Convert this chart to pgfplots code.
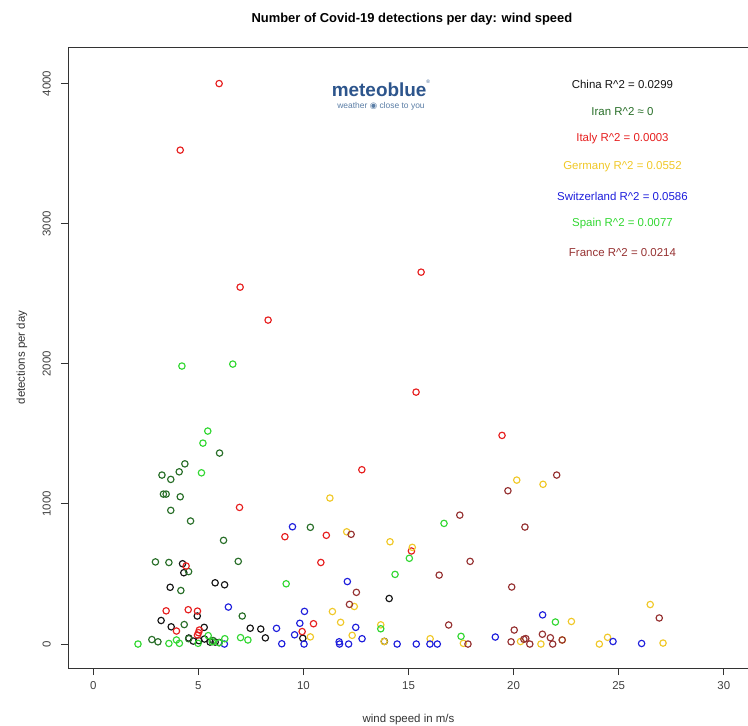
\documentclass[border=0pt]{standalone}
\usepackage{pgfplots}
\pgfplotsset{compat=1.18}
\usepackage{fontspec}
\setmainfont{Liberation Sans}
\newfontfamily\symfont{DejaVu Sans}

\definecolor{cChina}{RGB}{20,20,20}
\definecolor{cIran}{RGB}{40,110,40}
\definecolor{cItaly}{RGB}{230,30,30}
\definecolor{cGermany}{RGB}{240,200,40}
\definecolor{cSwiss}{RGB}{30,30,220}
\definecolor{cSpain}{RGB}{50,215,50}
\definecolor{cFrance}{RGB}{150,50,50}
\definecolor{mbBlue}{RGB}{45,85,140}
\definecolor{mbGrey}{RGB}{90,125,165}

\begin{document}
\begin{tikzpicture}
\begin{axis}[
  at={(68bp,58bp)}, anchor=south west,
  scale only axis, width=681bp, height=621bp,
  xmin=-1.2, xmax=31.2, ymin=-171, ymax=4261,
  xtick={0,5,...,30}, ytick={0,1000,...,4000},
  xtick pos=bottom, ytick pos=left,
  tick align=outside, major tick length=7bp,
  axis line style={line width=0.9bp, black!80},
  every tick/.style={black!80, line width=0.9bp},
  /pgf/number format/assume math mode=true,
  /pgf/number format/1000 sep={},
  scaled ticks=false,
  ticklabel style={font=\fontsize{11.5}{13}\selectfont, text=black!75},
  xticklabel style={yshift=-3bp},
  yticklabel style={rotate=90, anchor=south, inner ysep=10bp},
  xlabel={wind speed in m/s}, ylabel={detections per day},
  label style={font=\fontsize{11.5}{13}\selectfont, text=black!80},
  xlabel style={at={(axis description cs:0.5,-0.0837)}, anchor=center},
  ylabel style={at={(axis description cs:-0.0675,0.5)}, anchor=center, rotate=0},
  title={Number of Covid-19 detections per day: wind speed},
  title style={at={(axis description cs:0.505,1.0354)}, anchor=center,
    font=\bfseries\fontsize{13}{15}\selectfont},
  clip=false,
  every axis plot/.append style={only marks, mark=o, mark size=3.2bp,
    mark options={line width=1.15bp}},
]
% China
\addplot[cChina] coordinates {
(4.25,573) (4.31,509) (5.80,437) (6.25,423) (3.66,405) (4.95,200) (3.23,168)
(3.71,123) (7.47,113) (7.97,107) (5.28,119) (8.19,44) (4.55,43) (4.76,21)
(5.03,24) (5.29,36) (5.56,14) (5.80,14) (5.99,11) (9.97,41) (14.08,325) (13.85,19)
};
% Iran
\addplot[cIran] coordinates {
(6.01,1363) (4.36,1286) (4.09,1229) (3.27,1206) (3.69,1175) (3.34,1070) (3.47,1070)
(4.14,1051) (3.69,954) (4.63,878) (6.20,740) (2.96,586) (3.60,582) (6.90,590)
(4.54,517) (4.17,382) (7.09,200) (4.33,139) (2.79,32) (3.08,16) (10.33,833)
(4.54,38) (5.70,25)
};
% Italy
\addplot[cItaly] coordinates {
(5.99,4000) (4.14,3525) (6.99,2547) (8.32,2312) (15.60,2654) (15.36,1798)
(19.45,1489) (12.78,1244) (6.96,975) (9.12,766) (11.09,776) (10.83,582)
(15.14,664) (4.42,557) (3.47,237) (4.52,245) (4.96,235) (3.96,93) (5.05,100)
(5.01,81) (4.96,64) (10.48,145) (9.94,89)
};
% Germany
\addplot[cGermany] coordinates {
(11.26,1042) (12.06,801) (14.12,730) (15.18,690) (20.15,1170) (21.40,1140)
(12.42,268) (11.38,232) (11.77,155) (13.68,137) (10.33,51) (12.32,62) (16.03,38)
(17.61,5) (20.33,18) (21.30,0) (22.32,29) (22.75,161) (24.08,0) (24.47,48)
(26.50,282) (27.11,7) (13.84,18)
};
% Switzerland
\addplot[cSwiss] coordinates {
(9.48,837) (12.09,446) (6.43,264) (10.05,233) (9.83,148) (8.72,112) (12.49,119)
(9.58,66) (12.79,38) (11.70,16) (11.72,0) (12.15,0) (8.97,2) (10.03,0) (6.24,0)
(14.46,0) (15.37,0) (16.02,0) (16.37,0) (19.13,50) (21.38,208) (24.73,18) (26.09,4)
};
% Spain
\addplot[cSpain] coordinates {
(4.22,1984) (6.64,1998) (5.45,1520) (5.22,1434) (5.15,1222) (16.69,861)
(15.04,612) (14.36,497) (9.18,430) (13.68,109) (17.50,55) (21.99,157) (2.13,0)
(3.60,4) (3.96,29) (4.10,5) (7.01,46) (7.36,29) (4.99,5) (5.47,60) (5.66,16)
(5.99,9) (6.26,38)
};
% France
\addplot[cFrance] coordinates {
(22.05,1206) (19.73,1094) (17.44,920) (20.54,835) (12.27,783) (17.93,590)
(16.46,492) (19.91,407) (12.52,369) (12.19,283) (16.91,136) (26.93,186)
(20.03,100) (19.88,16) (20.49,34) (20.58,39) (20.77,0) (21.37,70) (21.75,45)
(21.86,0) (22.31,29) (17.83,0)
};

% R^2 annotations
\begin{scope}[every node/.style={anchor=center, font=\fontsize{11.5}{13}\selectfont}]
\node[text=cChina]   at (rel axis cs:0.8142,0.9404) {China R\^{}2 = 0.0299};
\node[text=cIran]    at (rel axis cs:0.8142,0.8953) {Iran R\^{}2 ≈ 0};
\node[text=cItaly]   at (rel axis cs:0.8142,0.8519) {Italy R\^{}2 = 0.0003};
\node[text=cGermany] at (rel axis cs:0.8142,0.8068) {Germany R\^{}2 = 0.0552};
\node[text=cSwiss]   at (rel axis cs:0.8142,0.7601) {Switzerland R\^{}2 = 0.0586};
\node[text=cSpain]   at (rel axis cs:0.8142,0.7150) {Spain R\^{}2 = 0.0077};
\node[text=cFrance]  at (rel axis cs:0.8142,0.6683) {France R\^{}2 = 0.0214};
\end{scope}

% logo
\node[anchor=center, inner sep=0pt, text=mbBlue, font=\bfseries\fontsize{19}{20}\selectfont]
  at (rel axis cs:0.4596,0.9340) {meteoblue\raisebox{1.3ex}{\mdseries\fontsize{5}{5}\selectfont ®}};
\node[anchor=center, inner sep=0pt, text=mbGrey, font=\fontsize{8.5}{9}\selectfont]
  at (rel axis cs:0.4596,0.9050) {weather {\symfont ◉} close to you};
\end{axis}
\pgfresetboundingbox
\path[use as bounding box] (0,0) rectangle (748bp,726bp);
\end{tikzpicture}
\end{document}
